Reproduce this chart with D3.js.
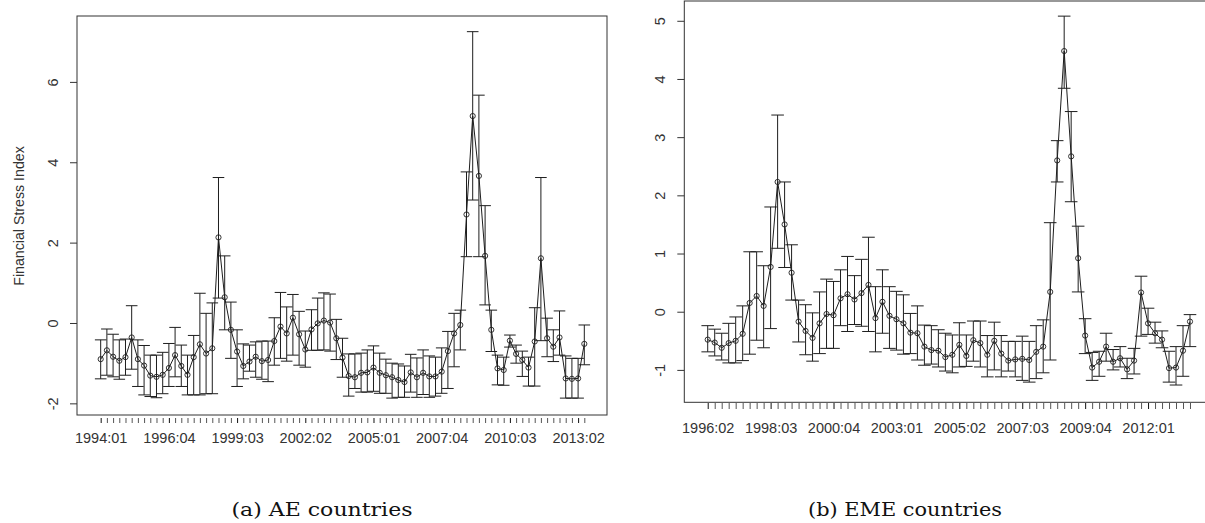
<!DOCTYPE html>
<html><head><meta charset="utf-8">
<script src="https://cdn.jsdelivr.net/npm/d3@7"></script>
<style>body{margin:0;background:#fff}svg{display:block}</style>
</head><body>
<svg id="c" width="1205" height="523"></svg>
<script>
// ---------- DATA ----------
const aeStart = [1994, 1];
const aeMean = [-0.90,-0.68,-0.84,-0.94,-0.85,-0.36,-0.90,-1.06,-1.31,-1.34,-1.29,-1.12,-0.80,-1.07,-1.29,-0.85,-0.53,-0.76,-0.63,2.13,
 0.64,-0.17,-0.71,-1.07,-0.96,-0.84,-0.95,-0.92,-0.45,-0.09,-0.26,0.13,-0.28,-0.66,-0.16,-0.01,0.06,0.01,-0.38,-0.86,
 -1.32,-1.35,-1.24,-1.23,-1.11,-1.24,-1.30,-1.35,-1.42,-1.47,-1.23,-1.35,-1.24,-1.33,-1.33,-1.21,-0.70,-0.26,-0.05,2.70,
 5.15,3.66,1.67,-0.17,-1.13,-1.17,-0.44,-0.77,-0.92,-1.11,-0.46,1.61,-0.38,-0.59,-0.36,-1.38,-1.39,-1.38,-0.52];
const aeUpper = [-0.42,-0.15,-0.28,-0.42,-0.40,0.43,-0.42,-0.56,-0.80,-0.80,-0.73,-0.51,-0.11,-0.55,-0.80,-0.31,0.74,0.24,0.50,3.62,
 1.67,0.52,-0.17,-0.52,-0.55,-0.47,-0.45,-0.45,0.13,0.76,0.40,0.71,0.29,-0.20,0.33,0.62,0.75,0.72,0.09,-0.38,
 -0.77,-0.77,-0.75,-0.67,-0.57,-0.75,-0.90,-1.00,-1.02,-1.07,-0.78,-0.87,-0.67,-0.82,-0.85,-0.62,-0.21,0.24,0.32,3.76,
 7.25,5.67,2.92,0.32,-0.80,-0.85,-0.30,-0.55,-0.70,-0.85,0.38,3.62,0.12,-0.17,0.30,-0.82,-0.88,-0.88,-0.05];
const aeLower = [-1.39,-1.30,-1.34,-1.40,-1.30,-1.15,-1.58,-1.79,-1.83,-1.86,-1.76,-1.58,-1.34,-1.58,-1.79,-1.79,-1.79,-1.76,-1.76,0.62,
 -0.17,-0.88,-1.58,-1.39,-1.20,-1.35,-1.40,-1.46,-1.05,-0.88,-0.95,-0.80,-1.05,-1.10,-0.68,-0.68,-0.67,-0.70,-0.91,-1.35,
 -1.82,-1.63,-1.72,-1.72,-1.70,-1.75,-1.75,-1.87,-1.85,-1.85,-1.72,-1.85,-1.78,-1.85,-1.82,-1.75,-1.63,-1.09,-0.67,1.65,
 3.06,1.65,0.45,-0.71,-1.54,-1.55,-0.60,-1.00,-1.33,-1.57,-1.57,-0.44,-0.84,-0.96,-0.80,-1.87,-1.87,-1.87,-1.04];
const aeYTicks = [-2, 0, 2, 4, 6];

const emeStart = [1996, 2];
const emeMean = [-0.48,-0.53,-0.62,-0.54,-0.50,-0.38,0.15,0.27,0.10,0.77,2.23,1.50,0.67,-0.17,-0.33,-0.45,-0.20,-0.04,-0.06,0.23,
 0.30,0.21,0.32,0.46,-0.11,0.17,-0.07,-0.13,-0.20,-0.36,-0.37,-0.60,-0.66,-0.67,-0.78,-0.74,-0.57,-0.76,-0.49,-0.54,
 -0.74,-0.50,-0.72,-0.84,-0.82,-0.81,-0.83,-0.69,-0.60,0.34,2.60,4.48,2.67,0.92,-0.41,-0.96,-0.86,-0.60,-0.86,-0.80,
 -0.99,-0.84,0.33,-0.20,-0.37,-0.48,-0.97,-0.96,-0.67,-0.17];
const emeUpper = [-0.24,-0.30,-0.37,-0.20,-0.09,0.10,1.03,1.03,0.79,1.80,3.38,2.23,1.15,0.20,0.12,-0.02,0.34,0.56,0.52,0.72,
 0.95,0.62,0.90,1.28,0.43,0.72,0.43,0.35,0.29,-0.03,0.10,-0.23,-0.24,-0.31,-0.37,-0.40,-0.19,-0.40,-0.16,-0.16,
 -0.41,-0.18,-0.41,-0.51,-0.51,-0.42,-0.51,-0.24,-0.14,1.53,2.94,5.08,3.44,1.47,-0.12,-0.70,-0.68,-0.37,-0.65,-0.60,
 -0.80,-0.63,0.61,0.06,-0.18,-0.33,-0.68,-0.60,-0.24,-0.05];
const emeLower = [-0.69,-0.76,-0.83,-0.88,-0.88,-0.84,-0.73,-0.49,-0.62,-0.29,1.09,0.76,0.20,-0.52,-0.74,-0.85,-0.72,-0.63,-0.63,-0.24,
 -0.34,-0.22,-0.25,-0.34,-0.69,-0.37,-0.63,-0.66,-0.73,-0.72,-0.83,-0.92,-0.90,-0.95,-1.02,-1.05,-0.95,-0.94,-0.85,-0.95,
 -1.12,-1.00,-1.12,-1.02,-1.12,-1.18,-1.21,-1.15,-1.05,-0.83,2.23,3.84,1.89,0.34,-0.72,-1.18,-1.11,-0.85,-1.00,-0.95,
 -1.15,-1.07,-0.42,-0.39,-0.54,-0.62,-1.21,-1.26,-1.11,-0.60];
const emeYTicks = [-1, 0, 1, 2, 3, 4, 5];

const captions = ["(a) AE countries", "(b) EME countries"];
const yTitle = "Financial Stress Index";

// quarter labels
function quarterLabels(start, n) {
  const out = [];
  for (let i = 0; i < n; i++) {
    const q0 = start[1] - 1 + i;
    const y = start[0] + Math.floor(q0 / 4);
    const q = (q0 % 4) + 1;
    out.push(y + ":0" + q);
  }
  return out;
}

const svg = d3.select("#c");
const ink = "#1e1e1e";
const sans = "Liberation Sans, Arial, sans-serif";

function panel(cfg) {
  const n = cfg.mean.length;
  const labels = quarterLabels(cfg.start, n);
  const x = d3.scaleLinear().domain(cfg.xdom).range([cfg.box.l, cfg.box.r]);
  const y = d3.scaleLinear().domain(cfg.ydom).range([cfg.box.b, cfg.box.t]);
  const g = svg.append("g");

  // box
  g.append("rect").attr("x", cfg.box.l).attr("y", cfg.box.t)
    .attr("width", cfg.box.r - cfg.box.l).attr("height", cfg.box.b - cfg.box.t)
    .attr("fill", "none").attr("stroke", "#333").attr("stroke-width", 1);

  // y axis
  const ya = d3.axisLeft(y).tickValues(cfg.yticks).tickSize(7).tickFormat(d => String(d));
  const yg = g.append("g").attr("transform", `translate(${cfg.box.l},0)`).call(ya);
  yg.select(".domain").remove();
  yg.selectAll(".tick line").attr("stroke", "#333");
  yg.selectAll(".tick text").attr("x", null).attr("dy", null)
    .attr("transform", `translate(${cfg.ylabX - cfg.box.l},0) rotate(-90)`)
    .attr("text-anchor", "middle").attr("y", 0)
    .style("font-family", sans).style("font-size", "14.5px").attr("fill", "#333");

  // x axis ticks (every quarter)
  const idx = d3.range(n);
  const xa = d3.axisBottom(x).tickValues(idx).tickSize(cfg.tickLen)
    .tickFormat(i => (i % cfg.labEvery === 0 ? labels[i] : ""));
  const xg = g.append("g").attr("transform", `translate(0,${cfg.tickTop})`).call(xa);
  xg.select(".domain").remove();
  xg.selectAll(".tick line").attr("stroke", i => i % cfg.labEvery === 0 ? "#111" : "#555").attr("stroke-width", 1);
  xg.selectAll(".tick text").attr("y", cfg.xlabBase - cfg.tickTop).attr("dy", null)
    .style("font-family", sans).style("font-size", "14.5px").attr("fill", "#333");

  // error bars
  const hw = cfg.capHalf;
  const eb = g.append("g").attr("stroke", ink).attr("stroke-width", 1).attr("fill", "none");
  idx.forEach(i => {
    const cx = x(i);
    eb.append("line").attr("x1", cx).attr("x2", cx).attr("y1", y(cfg.lower[i])).attr("y2", y(cfg.upper[i]));
    eb.append("line").attr("x1", cx - hw).attr("x2", cx + hw).attr("y1", y(cfg.upper[i])).attr("y2", y(cfg.upper[i]));
    eb.append("line").attr("x1", cx - hw).attr("x2", cx + hw).attr("y1", y(cfg.lower[i])).attr("y2", y(cfg.lower[i]));
  });

  // line
  g.append("path").datum(cfg.mean)
    .attr("d", d3.line().x((d, i) => x(i)).y(d => y(d)))
    .attr("fill", "none").attr("stroke", ink).attr("stroke-width", 1);

  // points
  g.append("g").selectAll("circle").data(cfg.mean).join("circle")
    .attr("cx", (d, i) => x(i)).attr("cy", d => y(d)).attr("r", 2.6)
    .attr("fill", "none").attr("stroke", ink).attr("stroke-width", 0.9);

  // caption
  svg.append("text").attr("x", cfg.capX).attr("y", 516).attr("text-anchor", "middle")
    .style("font-family", "DejaVu Serif, serif").style("font-size", "19px").attr("fill", "#111")
    .attr("textLength", cfg.capW).attr("lengthAdjust", "spacingAndGlyphs")
    .text(cfg.caption);
}

panel({
  start: aeStart, mean: aeMean, upper: aeUpper, lower: aeLower, yticks: aeYTicks,
  box: {l: 77, r: 607, t: 16, b: 415},
  xdom: [-3.82, 81.66], ydom: [-2.29, 7.64],
  tickTop: 418, tickLen: 5, xlabBase: 443, labEvery: 11, ylabX: 58, capHalf: 5.8,
  caption: captions[0], capX: 322, capW: 181
});
panel({
  start: emeStart, mean: emeMean, upper: emeUpper, lower: emeLower, yticks: emeYTicks,
  box: {l: 684.3, r: 1206, t: 1, b: 402.3},
  xdom: [-3.35, 71.29], ydom: [-1.557, 5.34],
  tickTop: 403, tickLen: 6, xlabBase: 433, labEvery: 9, ylabX: 665, capHalf: 6.3,
  caption: captions[1], capX: 905, capW: 194
});

// y title (left panel)
svg.append("text").attr("transform", "translate(24,216) rotate(-90)").attr("text-anchor", "middle")
  .style("font-family", sans).style("font-size", "14.2px").attr("fill", "#333")
  .text(yTitle);
</script>
</body></html>
